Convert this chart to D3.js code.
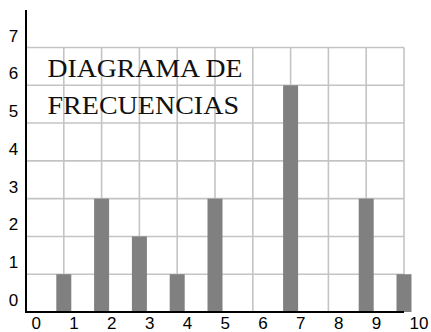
<!DOCTYPE html>
<html>
<head>
<meta charset="utf-8">
<script src="https://cdn.jsdelivr.net/npm/d3@7"></script>
<style>
  html, body { margin: 0; padding: 0; background: #fff; }
  svg { display: block; }
</style>
</head>
<body>
<svg id="chart" width="431" height="332"></svg>
<script>
// Frequency of each value 1..10
const categories = [1, 2, 3, 4, 5, 6, 7, 8, 9, 10];
const frequencies = [1, 3, 2, 1, 3, 0, 6, 0, 3, 1];
const xTickLabels = [0, 1, 2, 3, 4, 5, 6, 7, 8, 9, 10];
const yTickLabels = [0, 1, 2, 3, 4, 5, 6, 7];
const titleLines = ["DIAGRAMA DE", "FRECUENCIAS"];

const labelFont = "'Liberation Sans', Arial, sans-serif";
const titleFont = "'Liberation Serif', 'Times New Roman', serif";

const svg = d3.select("#chart");

const x = d3.scaleLinear().domain([0, 10]).range([26, 404]);
const y = d3.scaleLinear().domain([0, 7]).range([312, 47.5]);

// Grid
const grid = svg.append("g").attr("stroke", "#c4c4c4").attr("stroke-width", 1.6);
grid.selectAll("line.h")
  .data(yTickLabels.filter(d => d > 0))
  .join("line")
  .attr("class", "h")
  .attr("x1", x(0)).attr("x2", x(10))
  .attr("y1", d => y(d)).attr("y2", d => y(d));
grid.selectAll("line.v")
  .data(xTickLabels.filter(d => d > 0))
  .join("line")
  .attr("class", "v")
  .attr("x1", d => x(d)).attr("x2", d => x(d))
  .attr("y1", y(0)).attr("y2", y(7));

// Bars
const barWidth = 15;
svg.append("g").attr("fill", "#808080")
  .selectAll("rect")
  .data(categories.map((c, i) => ({ c, v: frequencies[i] })).filter(d => d.v > 0))
  .join("rect")
  .attr("x", d => x(d.c) - barWidth / 2)
  .attr("width", barWidth)
  .attr("y", d => y(d.v))
  .attr("height", d => y(0) - y(d.v));

// Axes
const xAxis = svg.append("g")
  .attr("transform", `translate(0,${y(0)})`)
  .call(d3.axisBottom(x).tickValues(xTickLabels).tickSize(0).tickFormat(d3.format("d")));
xAxis.select(".domain").remove();
xAxis.attr("font-size", null).attr("font-family", null);
xAxis.selectAll("text")
  .style("font-family", labelFont)
  .style("font-size", "17px")
  .style("fill", "#000")
  .attr("text-anchor", "start")
  .attr("dx", 5)
  .attr("dy", 0)
  .attr("y", 17);

const yAxis = svg.append("g")
  .attr("transform", `translate(${x(0)},0)`)
  .call(d3.axisLeft(y).tickValues(yTickLabels).tickSize(0).tickFormat(d3.format("d")));
yAxis.select(".domain").remove();
yAxis.attr("font-size", null).attr("font-family", null);
yAxis.selectAll("text")
  .style("font-family", labelFont)
  .style("font-size", "17px")
  .style("fill", "#000")
  .attr("text-anchor", "middle")
  .attr("x", -12.5)
  .attr("dy", -6.5);

// Axis lines
svg.append("line")
  .attr("x1", x(0)).attr("x2", x(0))
  .attr("y1", 10).attr("y2", y(0))
  .attr("stroke", "#000").attr("stroke-width", 2);
svg.append("line")
  .attr("x1", x(0) - 1).attr("x2", x(10))
  .attr("y1", y(0)).attr("y2", y(0))
  .attr("stroke", "#000").attr("stroke-width", 2);

// Title block
svg.append("g")
  .selectAll("text")
  .data(titleLines)
  .join("text")
  .attr("x", 47.5)
  .attr("y", (d, i) => 77.3 + i * 36.7)
  .style("font-family", titleFont)
  .style("font-size", "25px")
  .style("fill", "#111")
  .attr("textLength", (d, i) => i === 0 ? 195 : 191.5)
  .attr("lengthAdjust", "spacingAndGlyphs")
  .text(d => d);
</script>
</body>
</html>
